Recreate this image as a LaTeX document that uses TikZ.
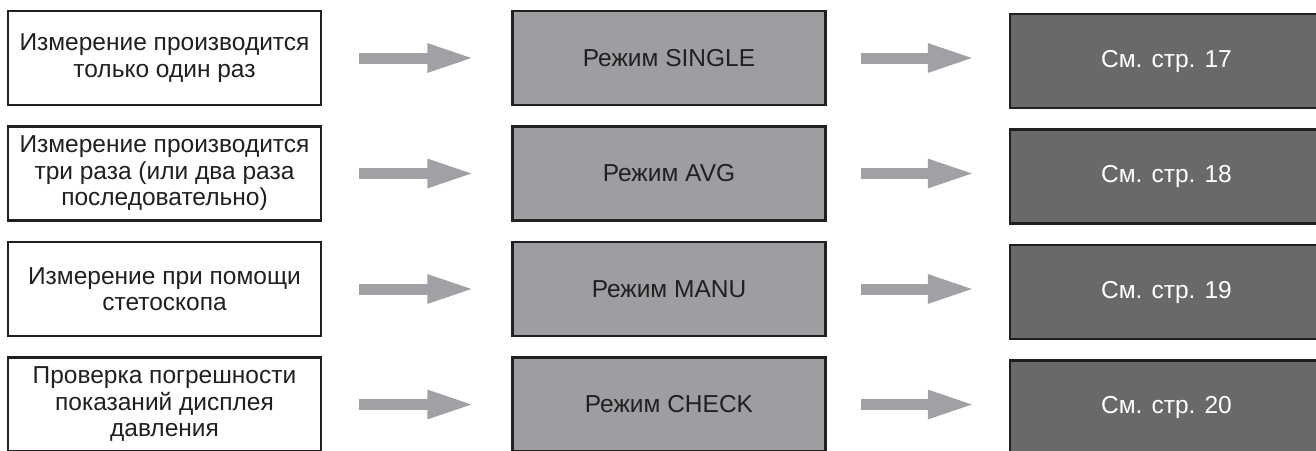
\documentclass[tikz,border=0pt]{standalone}
\usepackage{fontspec}
\setmainfont{Liberation Sans}
\usepackage{xcolor}
\usepackage{tikz}
\usetikzlibrary{arrows.meta,positioning}
\definecolor{edge}{HTML}{231F20}
\definecolor{modegray}{HTML}{9D9EA2}
\definecolor{pagegray}{HTML}{69696B}
\definecolor{arrgray}{HTML}{A0A1A4}

\begin{document}
\begin{tikzpicture}[
  node distance=19pt,
  box/.style={draw=edge,line width=2.5pt,align=center,inner sep=0pt,
              minimum width=313pt,minimum height=94pt,
              font=\fontsize{24.5}{26.5}\selectfont},
  casebox/.style={box,fill=white,text=edge},
  modebox/.style={box,fill=modegray,text=edge},
  pagebox/.style={box,fill=pagegray,text=white},
  ar/.style={-{Triangle[length=48pt,width=26pt]},line width=11pt,draw=arrgray}]
\useasboundingbox (0,0) rectangle (1316pt,-450pt);
\node[casebox] (c1) at (164.5pt,-58pt) {Измерение производится\\только один раз};
\node[casebox,below=of c1] (c2) {Измерение производится\\три раза (или два раза\\последовательно)};
\node[casebox,below=of c2] (c3) {Измерение при помощи\\стетоскопа};
\node[casebox,below=of c3] (c4) {Проверка погрешности\\показаний дисплея\\давления};
\node[modebox,right=189pt of c1] (m1) {Режим SINGLE};
\node[modebox,right=189pt of c2] (m2) {Режим AVG};
\node[modebox,right=189pt of c3] (m3) {Режим MANU};
\node[modebox,right=189pt of c4] (m4) {Режим CHECK};
\node[pagebox,right=182pt of m1,yshift=-3pt] (p1) {См. стр. 17};
\node[pagebox,right=182pt of m2,yshift=-3pt] (p2) {См. стр. 18};
\node[pagebox,right=182pt of m3,yshift=-3pt] (p3) {См. стр. 19};
\node[pagebox,right=182pt of m4,yshift=-3pt] (p4) {См. стр. 20};
\foreach \i in {1,...,4}{
  \draw[ar] ([xshift=37pt]c\i.east) -- ([xshift=-36pt]m\i.west);
  \draw[ar] ([xshift=34pt]m\i.east) -- ([xshift=-33pt,yshift=3pt]p\i.west);
}
\end{tikzpicture}
\end{document}
